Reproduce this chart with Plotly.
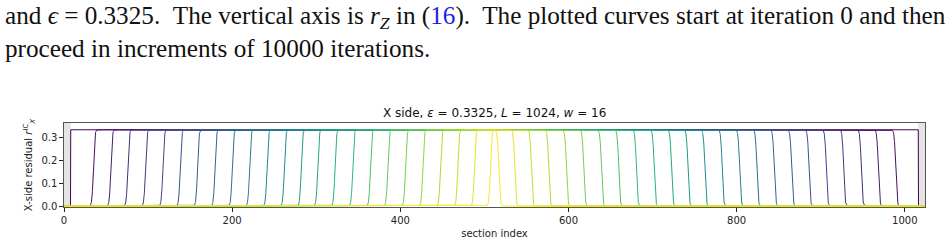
import numpy as np
import plotly.graph_objects as go
from plotly.colors import sample_colorscale

# ---- data ----
L = 1024                # chain length (section index range)
eps = 0.3325            # plateau height of the residual
boundary = 8            # shaded boundary sections at each end
# left front position of each plotted curve (iteration 0, 10000, 20000, ...)
front_pos = [8.0, 34.9, 55.6, 75.8, 96.8, 117.5, 138.1, 158.7, 179.4, 200.0,
             220.6, 241.3, 261.9, 282.0, 301.6, 322.2, 343.3, 364.3, 384.9,
             406.0, 426.6, 447.6, 468.2, 488.0, 507.0]
front_width = [0.0] + [1.6] * (len(front_pos) - 1)   # iteration 0 is a sharp step
iterations = [10000 * k for k in range(len(front_pos))]
x_ticks = [0, 200, 400, 600, 800, 1000]
y_ticks = [0.0, 0.1, 0.2, 0.3]

W, H = 948, 250
ML, MR, MT, MB = 64, 23, 123, 37
PL, PR, PT, PB = ML, W - MR, MT, H - MB


def px(xp):
    return (xp - PL) / (PR - PL)


def py(yp):
    return (PB - yp) / (PB - PT)


x = np.linspace(0, L, 4097)
colors = sample_colorscale("Viridis", len(front_pos))

fig = go.Figure()
for a, s, c, it in zip(front_pos, front_width, colors, iterations):
    b = L - a
    if s == 0:
        y = np.where((x >= a) & (x <= b), eps, 0.0)
        y[0] = 0.0
    else:
        y = eps * 0.5 * (np.tanh((x - a) / s) - np.tanh((x - b) / s))
    fig.add_trace(go.Scatter(x=x, y=y, mode="lines", line=dict(color=c, width=1),
                             name=f"iter {it}", showlegend=False))

# shaded boundary regions
for x0, x1 in [(0, boundary), (L - boundary, L)]:
    fig.add_shape(type="rect", xref="x", yref="paper", x0=x0, x1=x1, y0=0, y1=1,
                  fillcolor="#e4e4e4", line_width=0, layer="below")

tick_font = dict(family="DejaVu Sans", size=10, color="#222")
fig.update_xaxes(range=[0, L], tickvals=x_ticks, ticks="outside", ticklen=3.5,
                 tickwidth=1, tickcolor="#222", showgrid=False, zeroline=False,
                 showline=True, mirror=True, linecolor="#555", linewidth=1.3,
                 tickfont=tick_font,
                 title=dict(text="section index", font=dict(family="DejaVu Sans", size=10, color="#222"), standoff=5))
fig.update_yaxes(range=[-0.004, 0.362], tickvals=y_ticks, tickformat=".1f",
                 ticks="outside", ticklen=3.5, tickwidth=1, tickcolor="#222",
                 showgrid=False, zeroline=False, showline=True, mirror=True,
                 linecolor="#555", linewidth=1.3, tickfont=tick_font,
                 title=dict(text="X-side residual <i>r</i><sup>IC</sup><sub><i>X</i></sub>",
                            font=dict(family="DejaVu Sans", size=10, color="#222"), standoff=6))

caption = ("and <i>ϵ</i> = 0.3325.  The vertical axis is <i>r</i><sub><i>Z</i></sub> in "
           "(<span style='color:#2222dd'>16</span>).  The plotted curves start at iteration 0 and then"
           "<br>proceed in increments of 10000 iterations.")
fig.add_annotation(xref="paper", yref="paper", showarrow=False, x=px(3), xanchor="left",
                   y=py(26), yanchor="middle", align="left", text=caption,
                   font=dict(family="Liberation Serif", size=25.2, color="#111"))

fig.add_annotation(xref="paper", yref="paper", x=0.5, y=py(112), xanchor="center",
                   yanchor="middle", showarrow=False,
                   text="X side, <i>ε</i> = 0.3325, <i>L</i> = 1024, <i>w</i> = 16",
                   font=dict(family="DejaVu Sans", size=12, color="#111"))

fig.update_layout(width=W, height=H, margin=dict(l=ML, r=MR, t=MT, b=MB),
                  paper_bgcolor="white", plot_bgcolor="white", showlegend=False)

fig.write_html("out.html")
